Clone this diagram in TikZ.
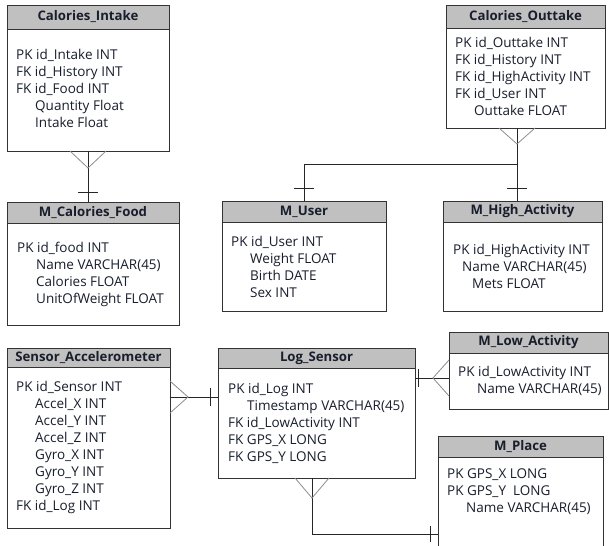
\documentclass[tikz,border=0pt]{standalone}
\usepackage{fontspec}
\setmainfont{Open Sans}
\usetikzlibrary{calc}
\definecolor{hdrgray}{RGB}{192,192,192}
\definecolor{txt}{RGB}{25,30,45}
\definecolor{crowgray}{RGB}{140,140,140}
\newcommand{\indt}{\hspace*{19pt}}

\begin{document}
\begin{tikzpicture}
	[x=1pt, y=-1pt,
	tbl/.style={draw=black!80, fill=white, inner sep=0pt, outer sep=0pt, line width=0.8pt},
	hdr/.style={draw=black!80, fill=hdrgray, inner sep=0pt, outer sep=0pt, line width=0.8pt,
		anchor=north, minimum height=21pt, text=txt, font=\fontsize{13.2}{15}\selectfont\bfseries},
	fld/.style={anchor=north west, align=left, inner sep=0pt, text=txt, font=\fontsize{13.5}{17}\selectfont},
	link/.style={draw=black!85, line width=0.8pt},
	crow/.style={draw=crowgray, line width=0.8pt}]
	\clip (0,0) rectangle (609,545);

	\node[tbl, minimum width=162pt, minimum height=146pt] (ci) at (88,78) {};
	\node[hdr, minimum width=162pt, minimum height=24pt] (ciH) at (ci.north) {Calories\_Intake};
	\node[fld] (ciF) at (16,49) {PK id\_Intake INT\\FK id\_History INT\\FK id\_Food INT\\\indt Quantity Float\\\indt Intake Float};

	\node[tbl, minimum width=159pt, minimum height=123pt] (co) at (525.5,66.5) {};
	\node[hdr, minimum width=159pt, minimum height=23pt] (coH) at (co.north) {Calories\_Outtake};
	\node[fld] (coF) at (455,37) {PK id\_Outtake INT\\FK id\_History INT\\FK id\_HighActivity INT\\FK id\_User INT\\\indt Outtake FLOAT};

	\node[tbl, minimum width=172pt, minimum height=123pt] (cf) at (93,263.5) {};
	\node[hdr, minimum width=172pt] (cfH) at (cf.north) {M\_Calories\_Food};
	\node[fld] (cfF) at (17,242) {PK id\_food INT\\\indt Name VARCHAR(45)\\\indt Calories FLOAT\\\indt UnitOfWeight FLOAT};

	\node[tbl, minimum width=164pt, minimum height=110pt] (mu) at (304,256) {};
	\node[hdr, minimum width=164pt] (muH) at (mu.north) {M\_User};
	\node[fld] (muF) at (231,236) {PK id\_User INT\\\indt Weight FLOAT\\\indt Birth DATE\\\indt Sex INT};

	\node[tbl, minimum width=159pt, minimum height=110pt] (ha) at (522.5,256) {};
	\node[hdr, minimum width=159pt] (haH) at (ha.north) {M\_High\_Activity};
	\node[fld] (haF) at (453,244) {PK id\_HighActivity INT\\\hspace*{9pt}Name VARCHAR(45)\\\indt Mets FLOAT};

	\node[tbl, minimum width=163pt, minimum height=180pt] (sa) at (88.5,438) {};
	\node[hdr, minimum width=163pt, minimum height=19pt] (saH) at (sa.north) {Sensor\_Accelerometer};
	\node[fld] (saF) at (16,381) {PK id\_Sensor INT\\\indt Accel\_X INT\\\indt Accel\_Y INT\\\indt Accel\_Z INT\\\indt Gyro\_X INT\\\indt Gyro\_Y INT\\\indt Gyro\_Z INT\\FK id\_Log INT};

	\node[tbl, minimum width=197pt, minimum height=130pt] (ls) at (316.5,413) {};
	\node[hdr, minimum width=197pt, minimum height=20pt] (lsH) at (ls.north) {Log\_Sensor};
	\node[fld] (lsF) at (228,383) {PK id\_Log INT\\\indt Timestamp VARCHAR(45)\\FK id\_LowActivity INT\\FK GPS\_X LONG\\FK GPS\_Y LONG};

	\node[tbl, minimum width=159pt, minimum height=77pt] (la) at (528.5,370.5) {};
	\node[hdr, minimum width=159pt] (laH) at (la.north) {M\_Low\_Activity};
	\node[fld] (laF) at (458,366) {PK id\_LowActivity INT\\\indt Name VARCHAR(45)};

	\node[tbl, minimum width=165pt, minimum height=124pt] (mp) at (520.5,498) {};
	\node[hdr, minimum width=165pt] (mpH) at (mp.north) {M\_Place};
	\node[fld] (mpF) at (447,469) {PK GPS\_X LONG\\PK GPS\_Y\ \ LONG\\\indt Name VARCHAR(45)};

	% Calories_Intake - M_Calories_Food
	\draw[link] (ci.south) -- (ci.south |- cf.north);
	\draw[crow] (ci.south) ++(-18,0) -- ++(18,17) -- ++(18,-17);
	\draw[link] (ci.south |- cf.north) ++(-10,-10) -- ++(20,0);

	% Calories_Outtake - M_User, M_High_Activity
	\coordinate (jn) at (517,164);
	\draw[link] (co.south -| jn) -- (jn |- ha.north);
	\draw[link] (jn) -| (mu.north);
	\draw[crow] (co.south -| jn) ++(-18,0) -- ++(18,16) -- ++(18,-16);
	\draw[link] (jn |- ha.north) ++(-10,-13) -- ++(20,0);
	\draw[link] (mu.north) ++(-10,-13) -- ++(20,0);

	% Sensor_Accelerometer - Log_Sensor
	\draw[link] ($(sa.north east)+(0,49)$) coordinate (sa1) -- (sa1 -| ls.west);
	\draw[crow] (sa1) ++(0,-16) -- ++(18,16) -- ++(-18,16);
	\draw[link] (sa1 -| ls.west) ++(-8,-9) -- ++(0,18);

	% Log_Sensor - M_Low_Activity
	\draw[link] ($(ls.north east)+(0,30)$) coordinate (ls1) -- (ls1 -| la.west);
	\draw[crow] (ls1 -| la.west) ++(0,-18) -- ++(-16,18) -- ++(16,18);
	\draw[link] (ls1) ++(3,-9) -- ++(0,18);

	% Log_Sensor - M_Place
	\coordinate (ls2) at ($(ls.south)+(-4.5,0)$);
	\draw[link] (ls2) |- ($(mp.north west)+(0,98)$) coordinate (mp1);
	\draw[crow] (ls2) ++(-17,0) -- ++(17,20) -- ++(17,-20);
	\draw[link] (mp1) ++(-8,-8) -- ++(0,16);
\end{tikzpicture}
\end{document}
